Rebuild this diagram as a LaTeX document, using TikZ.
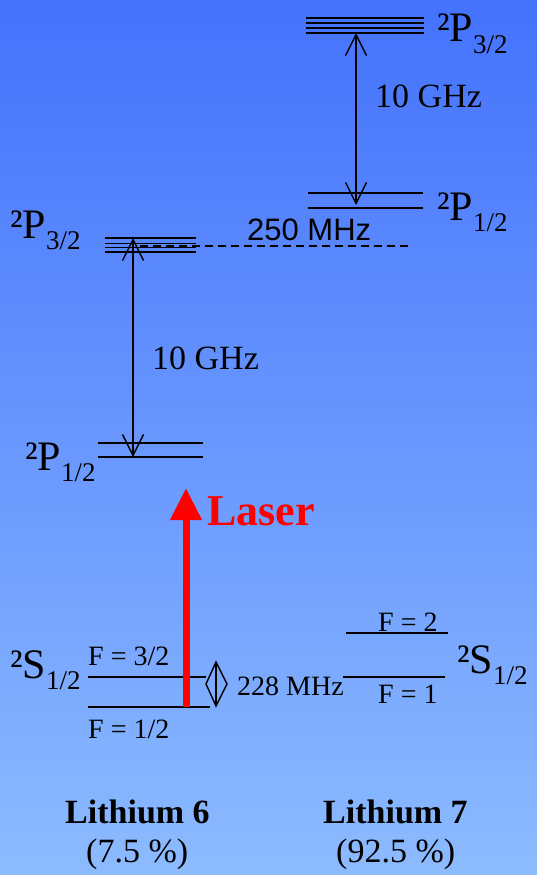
\documentclass[tikz,border=0pt]{standalone}
\usepackage{fontspec}
\setmainfont{Liberation Serif}
\newfontfamily\arial{Liberation Sans}
\usepackage{tikz}
\usetikzlibrary{arrows.meta}
\definecolor{bgtop}{RGB}{68,114,252}
\definecolor{bgbot}{RGB}{140,187,255}
\newcommand{\fs}[1]{\fontsize{#1}{#1}\selectfont}
\newcommand{\term}[2]{{\fs{42}²#1}\raisebox{-11pt}{\fs{27}#2}}

\begin{document}
\begin{tikzpicture}[x=1pt,y=-1pt,
  lv/.style={line width=1.7pt},
  tr/.style={line width=1.4pt,{Straight Barb[length=21pt,width=21pt]}-{Straight Barb[length=21pt,width=21pt]}},
  t/.style={inner sep=0pt,anchor=base west},
  laser/.style={red,line width=7pt,-{Triangle[length=32pt,width=30pt]}}]
\shade[top color=bgtop,bottom color=bgbot] (0,0) rectangle (537,875);
\useasboundingbox (0,0) rectangle (537,875);
\foreach \y in {18,23,28,33} \draw[lv] (306,\y) -- (424,\y);
\foreach \y in {193,208} \draw[lv] (308,\y) -- (423,\y);
\foreach \y in {238,243.5,247.5,252} \draw[lv] (105,\y) -- (196,\y);
\foreach \y in {443,457} \draw[lv] (98,\y) -- (203,\y);
\draw[lv] (88,677) -- (206,677);
\draw[lv] (88,707) -- (210,707);
\draw[lv] (346,633) -- (448,633);
\draw[lv] (343,677) -- (445,677);
\draw[line width=1.3pt,dash pattern=on 8pt off 5pt] (140,246) -- (413,246);
\coordinate (b7) at (356,33);
\coordinate (a7) at (356,205);
\coordinate (b6) at (133,238);
\coordinate (a6) at (133,457);
\coordinate (d1) at (216,662);
\coordinate (d2) at (216,706);
\coordinate (l0) at (186,707);
\coordinate (l1) at (186,488);
\draw[tr] (a7) -- (b7);
\draw[tr] (a6) -- (b6);
\draw[line width=1.4pt] (d1) -- (d2);
\draw[line width=1.4pt,line join=miter] (d1) -- ++(-10,22) -- (d2) -- ++(11,-22) -- cycle;
\draw[laser] (l0) -- (l1);
\node[t] (p37) at (437,42) {\term{P}{3/2}};
\node[t] (p17) at (437,220) {\term{P}{1/2}};
\node[t] (p36) at (10,238) {\term{P}{3/2}};
\node[t] (p16) at (25,470) {\term{P}{1/2}};
\node[t] (s6) at (10,678) {\term{S}{1/2}};
\node[t] (s7) at (457,673) {\term{S}{1/2}};
\node[t,font=\fs{34}] (g7) at (375,107) {10 GHz};
\node[t,font=\arial\fs{31}] (hfs) at (247,240) {250 MHz};
\node[t,font=\fs{34}] (g6) at (152,369) {10 GHz};
\node[t,font=\bfseries\fs{44},text=red] (las) at (207,525) {Laser};
\node[t,font=\fs{28}] (f32) at (88,665) {F = 3/2};
\node[t,font=\fs{28}] (f12) at (88,738) {F = 1/2};
\node[t,font=\fs{28}] (mhz) at (237,695) {228 MHz};
\node[t,font=\fs{28}] (f2) at (378,631) {F = 2};
\node[t,font=\fs{28}] (f1) at (378,703) {F = 1};
\node[t,font=\bfseries\fs{34}] (li6) at (65,823) {Lithium 6};
\node[t,font=\fs{34}] (ab6) at (86,862) {(7.5 \%)};
\node[t,font=\bfseries\fs{34}] (li7) at (323,823) {Lithium 7};
\node[t,font=\fs{34}] (ab7) at (336,862) {(92.5 \%)};
\end{tikzpicture}
\end{document}
